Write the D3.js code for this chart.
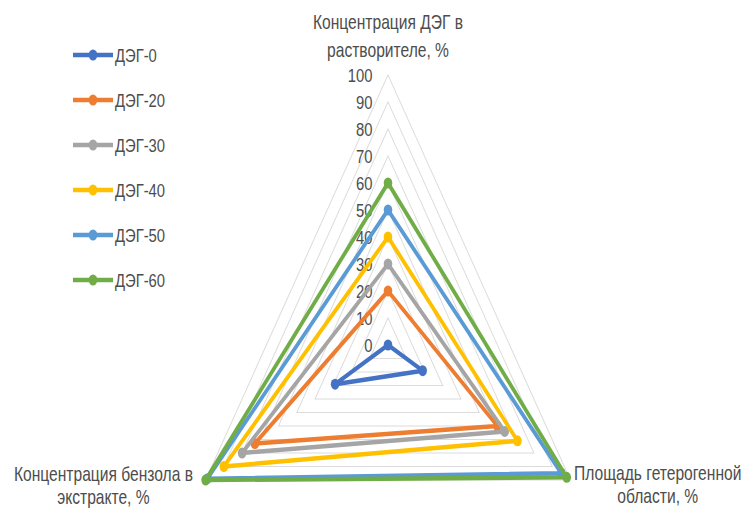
<!DOCTYPE html>
<html>
<head>
<meta charset="utf-8">
<script src="https://cdn.jsdelivr.net/npm/d3@7"></script>
<style>
  html, body { margin: 0; padding: 0; background: #fff; }
  svg { display: block; }
  text { font-family: "Liberation Sans", Arial, sans-serif; fill: #4d4d4d; }
</style>
</head>
<body>
<svg id="chart" width="755" height="508"></svg>
<script>
// Axis categories (clockwise from the top), each split into its two label lines
const axisLabels = [
  ["Концентрация ДЭГ в", "растворителе, %"],
  ["Площадь гетерогенной", "области, %"],
  ["Концентрация бензола в", "экстракте, %"]
];

// Series names and their values on the three axes
const seriesNames = ["ДЭГ-0", "ДЭГ-20", "ДЭГ-30", "ДЭГ-40", "ДЭГ-50", "ДЭГ-60"];
const deg0  = [0, 19, 29];
const deg20 = [20, 60, 73];
const deg30 = [30, 64, 80];
const deg40 = [40, 71, 90];
const deg50 = [50, 95, 99];
const deg60 = [60, 98, 100];
const seriesValues = [deg0, deg20, deg30, deg40, deg50, deg60];

// Radial tick labels
const tickValues = [0, 10, 20, 30, 40, 50, 60, 70, 80, 90, 100];

const colors = ["#4472C4", "#ED7D31", "#A5A5A5", "#FFC000", "#5B9BD5", "#70AD47"];

// The chart is laid out in a frame that is narrowed horizontally
const SX = 0.78;
const cx = 388 / SX, cy = 345;

const svg = d3.select("#chart");
const root = svg.append("g").attr("transform", `scale(${SX},1)`);

const r = d3.scaleLinear().domain([0, 100]).range([0, 270]);
const angle = i => i * 2 * Math.PI / axisLabels.length;
const px = (i, v) => r(v) * Math.sin(angle(i));
const py = (i, v) => -r(v) * Math.cos(angle(i));

const plot = root.append("g").attr("transform", `translate(${cx},${cy})`);

// Triangular grid rings
const ring = d3.lineRadial()
  .angle((d, i) => angle(i))
  .radius(d => r(d))
  .curve(d3.curveLinearClosed);

plot.append("g").selectAll("path")
  .data(tickValues.filter(t => t > 0))
  .join("path")
  .attr("d", t => ring(axisLabels.map(() => t)))
  .attr("fill", "none")
  .attr("stroke", "#dcdcdc")
  .attr("stroke-width", 1.2);

// Tick labels along the vertical axis
plot.append("g").selectAll("text")
  .data(tickValues)
  .join("text")
  .attr("x", -20)
  .attr("y", t => py(0, t) + 7)
  .attr("text-anchor", "end")
  .attr("font-size", 19)
  .text(t => t);

// Series polygons and markers
const seriesLine = d3.lineRadial()
  .angle((d, i) => angle(i))
  .radius(d => r(d))
  .curve(d3.curveLinearClosed);

const sg = plot.append("g").selectAll("g")
  .data(seriesValues)
  .join("g");

sg.append("path")
  .attr("d", d => seriesLine(d))
  .attr("fill", "none")
  .attr("stroke", (d, i) => colors[i])
  .attr("stroke-width", 4.5)
  .attr("stroke-linejoin", "round");

sg.selectAll("circle")
  .data((d, i) => d.map((v, k) => ({ v, k, c: colors[i] })))
  .join("circle")
  .attr("cx", d => px(d.k, d.v))
  .attr("cy", d => py(d.k, d.v))
  .attr("r", 5.5)
  .attr("fill", d => d.c);

// Category labels at the tips of the outer ring
const labelPos = [
  { x: 0, y: -r(100), dy: [-46, -18] },
  { x: px(1, 100) + 112, y: py(1, 100), dy: [0, 23] },
  { x: px(2, 100) - 131, y: py(2, 100), dy: [1, 24] }
];

axisLabels.forEach((lines, i) => {
  const p = labelPos[i];
  plot.append("text")
    .attr("text-anchor", "middle")
    .attr("font-size", 20)
    .selectAll("tspan")
    .data(lines)
    .join("tspan")
    .attr("x", p.x)
    .attr("y", (d, j) => p.y + p.dy[j])
    .text(d => d);
});

// Legend
const legend = root.append("g").attr("transform", `translate(${73 / SX},55)`);
const item = legend.selectAll("g")
  .data(seriesNames)
  .join("g")
  .attr("transform", (d, i) => `translate(0,${i * 45})`);

item.append("line")
  .attr("x1", 0).attr("x2", 40 / SX)
  .attr("stroke", (d, i) => colors[i])
  .attr("stroke-width", 4.5);

item.append("circle")
  .attr("cx", 20 / SX)
  .attr("r", 5.5)
  .attr("fill", (d, i) => colors[i]);

item.append("text")
  .attr("x", 42 / SX)
  .attr("y", 7)
  .attr("font-size", 19)
  .text(d => d);
</script>
</body>
</html>
